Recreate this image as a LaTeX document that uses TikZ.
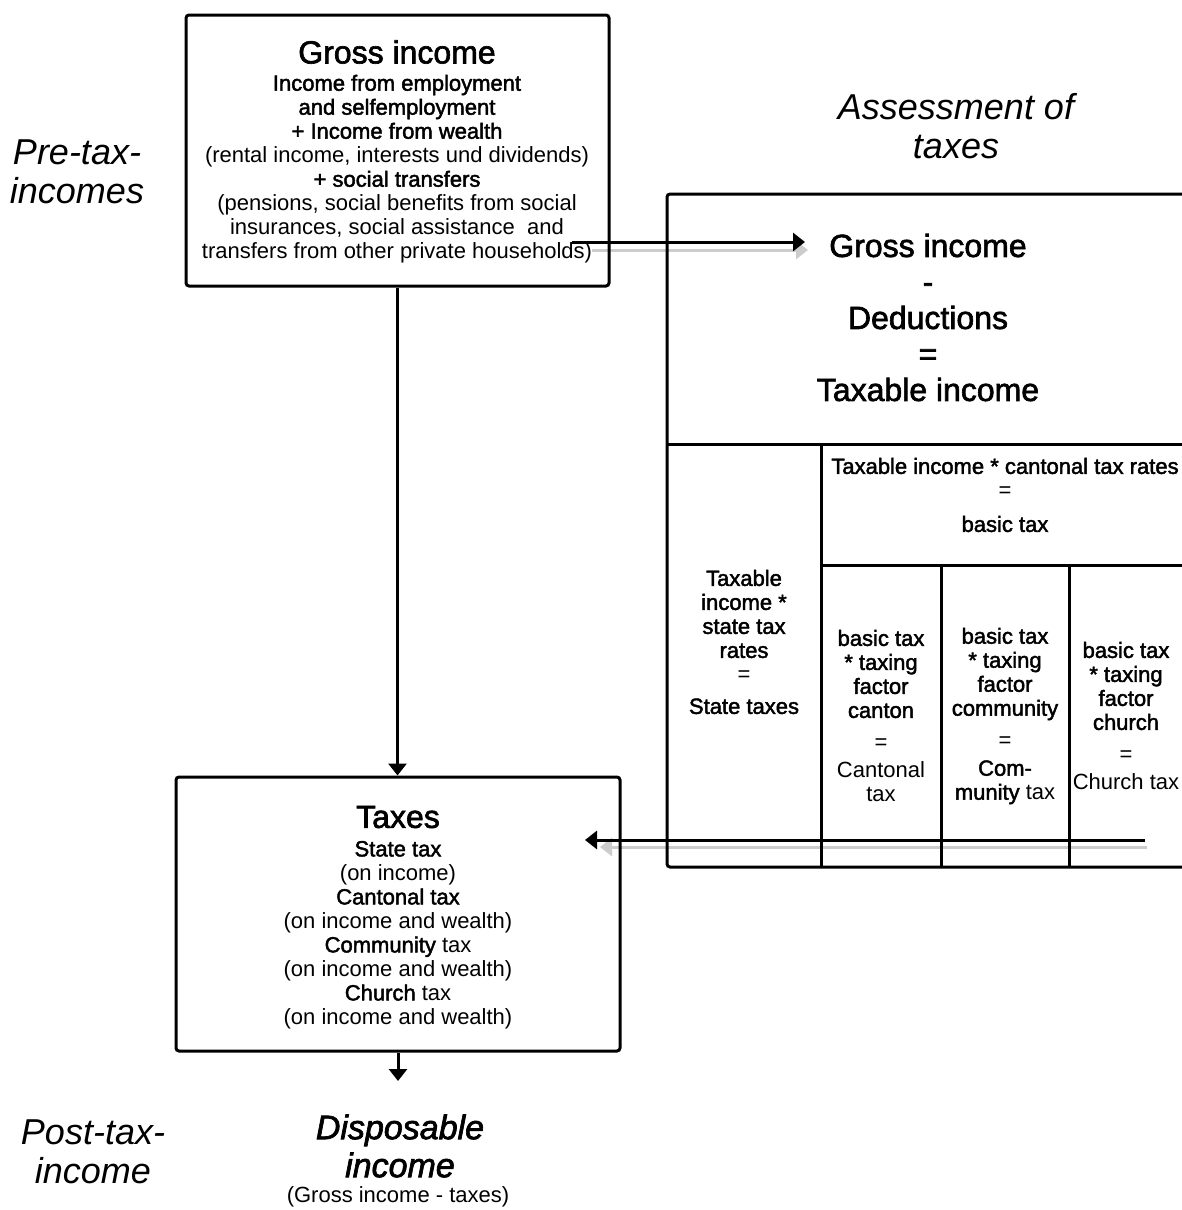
\documentclass[tikz,border=0pt]{standalone}
\usepackage{fontspec}
\setmainfont{Liberation Sans}
\newfontfamily\medium{Liberation Sans}[FakeBold=2]
\usetikzlibrary{arrows.meta}

\begin{document}
\begin{tikzpicture}[x=0.5pt,y=-0.5pt]
\tikzstyle{box}=[draw,line width=1.5pt,rounded corners=1.5pt,inner sep=0pt]
\tikzstyle{grid}=[draw,line width=1.5pt,rounded corners=1.5pt]
\tikzstyle{arrow}=[draw,line width=1.5pt,-{Triangle[length=6pt,width=9pt]}]
\tikzstyle{shadow}=[draw,line width=1.5pt,color=black!20,-{Triangle[length=6pt,width=9pt]}]
\tikzstyle{txt}=[align=center,inner sep=0pt,font=\fontsize{11}{12}\selectfont]
\tikzstyle{mtxt}=[txt,font=\medium\fontsize{11}{12}\selectfont]
\tikzstyle{head}=[align=center,inner sep=0pt,font=\medium\fontsize{16}{18}\selectfont]
\tikzstyle{side}=[align=center,inner sep=0pt,font=\itshape\fontsize{18}{19.5}\selectfont]
\useasboundingbox[fill=white](0,0)rectangle(1182,1210);
% connector ends
\coordinate(grossout)at(572,242);
\coordinate(assessin)at(805,242);
\coordinate(cellsout)at(1145,840);
\coordinate(taxesin)at(585,840);
\coordinate(dispin)at(398,1081);
% shadows
\path[shadow]([shift={(20,8)}]grossout)--([shift={(3,8)}]assessin);
\path[shadow]([shift={(2,7)}]cellsout)--([shift={(15,7)}]taxesin);
% assessment table
\path[grid](1182,194)--(667,194)--(667,867)--(1182,867);
\path[grid](667,444)--(1182,444);
\path[grid](821,444)--(821,867);
\path[grid](821,565)--(1182,565);
\path[grid](941,565)--(941,867);
\path[grid](1069,565)--(1069,867);
% boxes
\node[box,minimum width=211.5pt,minimum height=135.5pt](gross)at(397.5,150.5){};
\node[box,minimum width=222pt,minimum height=137pt](taxes)at(398,914){};
% texts
\node[head](grosstitle)at(397,52){Gross income};
\node[txt](grossbody)at(397,169){{\medium Income from employment}\\{\medium and selfemployment}\\{\medium + Income from wealth}\\(rental income, interests und dividends)\\{\medium + social transfers}\\(pensions, social benefits from social\\insurances, social assistance\ \ and\\transfers from other private households)};
\node[head](taxtitle)at(398,817){Taxes};
\node[txt](taxbody)at(398,935){{\medium State tax}\\(on income)\\{\medium Cantonal tax}\\(on income and wealth)\\{\medium Community} tax\\(on income and wealth)\\{\medium Church} tax\\(on income and wealth)};
\node[head](assess)at(928,317.5){Gross income\\-\\Deductions\\=\\Taxable income};
\node[side](pretax)at(77,172){Pre-tax-\\incomes};
\node[side](assesslabel)at(956,126.5){Assessment of\\taxes};
\node[side](posttax)at(93,1151.5){Post-tax-\\income};
\node[side,font=\medium\itshape\fontsize{17}{19}\selectfont](disposable)at(400,1146){Disposable\\income};
\node[txt](dispnote)at(398,1197){(Gross income - taxes)};
\node[mtxt](basiccell)at(1005,495){Taxable income * cantonal tax rates\\{\rmfamily =}\\[5pt]basic tax};
\node[mtxt](statecell)at(744,642){Taxable\\income *\\state tax\\rates\\{\rmfamily =}\\[4pt]State taxes};
\node[mtxt](cantoncell)at(881,716){basic tax\\* taxing\\factor\\canton\\[4pt]{\rmfamily =}\\[2pt]{\rmfamily Cantonal}\\{\rmfamily tax}};
\node[mtxt](communitycell)at(1005,716){basic tax\\* taxing\\factor\\community\\[4pt]{\rmfamily =}\\[2pt]Com-\\munity {\rmfamily tax}};
\node[mtxt](churchcell)at(1126,716){basic tax\\* taxing\\factor\\church\\[4pt]{\rmfamily =}\\[2pt]{\rmfamily Church tax}};
% arrows
\path[arrow](gross.south)--(gross.south|-taxes.north);
\path[arrow](taxes.south)--(dispin);
\path[arrow](grossout)--(assessin);
\path[arrow](cellsout)--(taxesin);
\end{tikzpicture}
\end{document}
